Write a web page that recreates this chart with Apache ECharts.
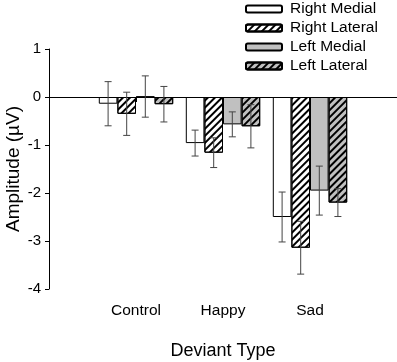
<!DOCTYPE html>
<html>
<head>
<meta charset="utf-8">
<script src="https://cdn.jsdelivr.net/npm/echarts@6/dist/echarts.min.js"></script>
<style>
html, body { margin: 0; padding: 0; background: #fff; }
#chart { width: 397px; height: 362px; }
</style>
</head>
<body>
<div id="chart"></div>
<script>
var categories = ['Control', 'Happy', 'Sad'];
var seriesNames = ['Right Medial', 'Right Lateral', 'Left Medial', 'Left Lateral'];
var rightMedial = [-0.14, -0.96, -2.50];
var rightLateral = [-0.35, -1.16, -3.14];
var leftMedial = [0.01, -0.57, -1.95];
var leftLateral = [-0.15, -0.61, -2.20];
var rightMedialErr = [0.46, 0.27, 0.52];
var rightLateralErr = [0.45, 0.31, 0.55];
var leftMedialErr = [0.43, 0.26, 0.51];
var leftLateralErr = [0.37, 0.45, 0.29];
var yMin = -4, yMax = 1, yStep = 1;

var font = 'Arial, "Liberation Sans", sans-serif';
var gapRatio = 0.145;
var xData = [''].concat(categories, ['']);

function pad(arr) {
	return [null].concat(arr, [null]);
}

var hatch = {
	symbol: 'rect',
	symbolSize: 1,
	dashArrayX: [1, 0],
	dashArrayY: [1.2, 2.4],
	rotation: -Math.PI / 4,
	color: '#000'
};

function barSeries(name, values, fill, decal) {
	var s = {
		name: name,
		type: 'bar',
		data: pad(values),
		barGap: '0%',
		barCategoryGap: (gapRatio * 100) + '%',
		itemStyle: {
			color: fill,
			borderColor: '#000',
			borderWidth: 1
		}
	};
	if (decal) s.itemStyle.decal = decal;
	return s;
}

function errorSeries(idx, means, errs) {
	var data = means.map(function (m, k) {
		return [k + 1, m - errs[k], m + errs[k]];
	});
	return {
		type: 'custom',
		name: 'err' + idx,
		z: 5,
		encode: { x: 0, y: [1, 2] },
		data: data,
		renderItem: function (params, api) {
			var band = api.size([1, 0])[0];
			var barW = band * (1 - gapRatio) / 4;
			var lo = api.coord([api.value(0), api.value(1)]);
			var hi = api.coord([api.value(0), api.value(2)]);
			var x = lo[0] + (idx - 1.5) * barW;
			var cap = 3.5;
			var st = { stroke: '#444', lineWidth: 1 };
			return {
				type: 'group',
				children: [
					{ type: 'line', shape: { x1: x, y1: hi[1], x2: x, y2: lo[1] }, style: st },
					{ type: 'line', shape: { x1: x - cap, y1: hi[1], x2: x + cap, y2: hi[1] }, style: st },
					{ type: 'line', shape: { x1: x - cap, y1: lo[1], x2: x + cap, y2: lo[1] }, style: st }
				]
			};
		}
	};
}

var chart = echarts.init(document.getElementById('chart'));

var rm = barSeries(seriesNames[0], rightMedial, '#fff');
rm.markLine = {
	silent: true,
	symbol: 'none',
	label: { show: false },
	lineStyle: { color: '#000', width: 1, type: 'solid' },
	data: [{ yAxis: 0 }]
};

var option = {
	animation: false,
	grid: { left: 49, right: 0, top: 49, bottom: 73, outerBoundsMode: 'none', containLabel: false },
	legend: {
		orient: 'vertical',
		left: 240,
		top: -4,
		itemWidth: 36,
		itemHeight: 7,
		itemGap: 3,
		data: seriesNames,
		textStyle: { fontFamily: font, fontSize: 15.5, color: '#000', padding: [0, 0, 0, 3] }
	},
	xAxis: {
		type: 'category',
		data: xData,
		boundaryGap: false,
		name: 'Deviant Type',
		nameLocation: 'middle',
		nameGap: 53,
		nameMoveOverlap: false,
		nameTextStyle: { fontFamily: font, fontSize: 18, color: '#000' },
		axisLine: { lineStyle: { color: '#000', width: 1 } },
		axisTick: {
			length: 5,
			lineStyle: { color: '#000' },
			interval: function (i) { return i > 0 && i < xData.length - 1; }
		},
		axisLabel: { interval: 0, fontFamily: font, fontSize: 15.5, color: '#000', margin: 14 }
	},
	yAxis: {
		type: 'value',
		min: yMin,
		max: yMax,
		interval: yStep,
		name: 'Amplitude (\u00b5V)',
		nameLocation: 'middle',
		nameGap: 26,
		nameMoveOverlap: false,
		nameTextStyle: { fontFamily: font, fontSize: 19, color: '#000' },
		axisLine: { show: true, lineStyle: { color: '#000', width: 1 } },
		axisTick: { show: true, length: 4, lineStyle: { color: '#000' } },
		axisLabel: { fontFamily: font, fontSize: 15, color: '#000', margin: 8 },
		splitLine: { show: false }
	},
	series: [
		rm,
		barSeries(seriesNames[1], rightLateral, '#fff', hatch),
		barSeries(seriesNames[2], leftMedial, '#c0c0c0'),
		barSeries(seriesNames[3], leftLateral, '#c0c0c0', hatch),
		errorSeries(0, rightMedial, rightMedialErr),
		errorSeries(1, rightLateral, rightLateralErr),
		errorSeries(2, leftMedial, leftMedialErr),
		errorSeries(3, leftLateral, leftLateralErr)
	]
};

chart.setOption(option);

window.onresize = function () {
	chart.resize();
};
</script>
</body>
</html>
